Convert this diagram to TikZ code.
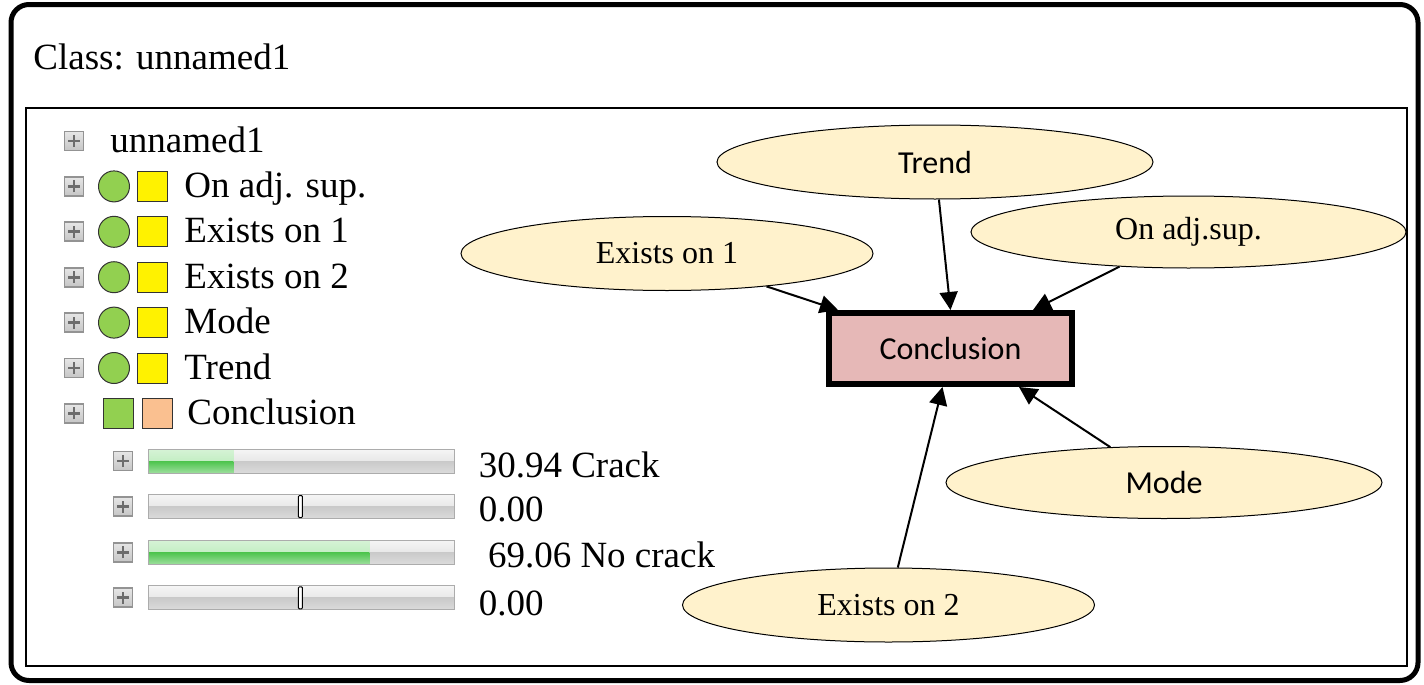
\documentclass[tikz,border=0pt]{standalone}
\usepackage{fontspec}
\setmainfont{Liberation Serif}
\newfontfamily\calibri{Carlito}
\usepackage{tikz}
\usetikzlibrary{chains,positioning,shapes.geometric,arrows.meta}
\definecolor{leafgreen}{RGB}{146,208,80}
\definecolor{peach}{RGB}{250,192,144}
\definecolor{rosebox}{RGB}{230,184,183}
\definecolor{paleyellow}{RGB}{255,242,204}
\definecolor{barlight}{RGB}{196,238,196}
\definecolor{bardark}{RGB}{76,196,76}

\begin{document}
\begin{tikzpicture}[x=0.5pt,y=-0.5pt,
  plusbox/.style={rectangle,draw=gray!85,line width=0.9pt,top color=gray!20,bottom color=gray!45,
    minimum size=9.5pt,inner sep=0pt,
    path picture={\draw[gray!85!black,line width=1.4pt]
      ([xshift=-3pt]path picture bounding box.center) -- ++(6pt,0pt)
      ([yshift=-3pt]path picture bounding box.center) -- ++(0pt,6pt);}},
  stateball/.style={circle,draw=black!80,fill=leafgreen,line width=0.5pt,minimum size=15.5pt,inner sep=0pt},
  statesq/.style={rectangle,draw=black!80,fill=yellow,line width=0.5pt,minimum size=15pt,inner sep=0pt},
  listtext/.style={anchor=base west,inner sep=0pt,font=\fontsize{18.5}{21}\selectfont},
  valtext/.style={anchor=west,inner sep=0pt,font=\fontsize{18.5}{21}\selectfont},
  varnode/.style={ellipse,draw,line width=0.5pt,fill=paleyellow,minimum width=206pt,minimum height=37pt,
    inner sep=0pt,font=\fontsize{16}{19}\selectfont},
  calfont/.style={font=\calibri\fontsize{16}{19}\selectfont},
  concnode/.style={rectangle,draw,line width=3pt,fill=rosebox,minimum width=121.5pt,minimum height=35.5pt,calfont},
  link/.style={line width=1pt,-{Triangle[length=9pt,width=9pt]}}
]
\useasboundingbox (0,0) rectangle (1424,685);

% the frames
\draw[line width=2.5pt,rounded corners=9pt] (11,4.5) rectangle (1418,680.5);
\draw[line width=0.75pt] (26,108) rectangle (1407,666);
\node[listtext] (title) at (33,69) {Class: unnamed1};

% the plus icons of the tree
\begin{scope}[shift={(74,141)},start chain=going below,node distance=12.3pt]
\foreach \i in {0,1,...,6}
    \node[plusbox,on chain] (pl\i) {};
\end{scope}

% the plus icons of the states
\begin{scope}[shift={(123,461)},start chain=going below,node distance=12.4pt]
\foreach \i in {1,2,...,4}
    \node[plusbox,on chain] (bp\i) {};
\end{scope}

% the tree entries
\node[listtext] (root) at ([xshift=18pt,yshift=-5.5pt]pl0.center) {unnamed1};
\foreach \i/\name in {1/On adj. sup.,2/Exists on 1,3/Exists on 2,4/Mode,5/Trend} {
    \node[stateball,right=6.8pt of pl\i] (ball\i) {};
    \node[statesq,right=3.5pt of ball\i] (sq\i) {};
    \node[listtext] (var\i) at ([xshift=8pt,yshift=-5.5pt]sq\i.east) {\name};
}
\node[statesq,fill=leafgreen,right=9.3pt of pl6] (ball6) {};
\node[statesq,fill=peach,right=4pt of ball6] (sq6) {};
\node[listtext] (var6) at ([xshift=7pt,yshift=-5.5pt]sq6.east) {Conclusion};

% the state bars
\foreach \i in {1,2,...,4} {
    \path ([xshift=7.5pt]bp\i.east) coordinate (bs\i);
    \shade[top color=gray!8,bottom color=gray!18] ([yshift=6pt]bs\i) rectangle ++(153pt,-6pt);
    \shade[top color=gray!42,bottom color=gray!28] (bs\i) rectangle ++(153pt,-6pt);
}
\foreach \i/\len in {1/42.5pt,3/110.5pt} {
    \shade[top color=barlight!70,bottom color=barlight] ([yshift=6pt]bs\i) rectangle ++(\len,-6pt);
    \shade[top color=bardark,bottom color=bardark!55] (bs\i) rectangle ++(\len,-6pt);
}
\foreach \i in {1,2,...,4}
    \draw[gray!65,line width=0.5pt] ([yshift=6pt]bs\i) rectangle ++(153pt,-12pt);
\foreach \i in {2,4}
    \draw[line width=0.5pt,fill=white,rounded corners=0.5pt] ([xshift=75pt,yshift=5.5pt]bs\i) rectangle ++(2pt,-11pt);

% the state values
\node[valtext] (val1) at ([xshift=165pt,yshift=-2pt]bs1) {30.94 Crack};
\node[valtext] (val2) at ([xshift=165pt,yshift=-1.5pt]bs2) {0.00};
\node[valtext] (val3) at ([xshift=165pt,yshift=-1.5pt]bs3) {\ 69.06 No crack};
\node[valtext] (val4) at ([xshift=165pt,yshift=-3pt]bs4) {0.00};

% the network
\node[varnode,calfont,minimum width=218pt] (trend) at (935,162) {Trend};
\node[varnode] (exone) at (667,253.5) {Exists on 1};
\node[varnode,minimum width=217.5pt,minimum height=36pt] (adjsup) at (1188.5,232) {On adj.sup.};
\node[varnode,calfont,minimum width=218pt,minimum height=36pt] (mode) at (1164,482.5) {Mode};
\node[varnode] (extwo) at (888.5,605) {Exists on 2};
\node[concnode] (concl) at (950.5,348.5) {Conclusion};

% the links
\draw[link] (exone) -- ([xshift=6pt]concl.north west);
\draw[link] (trend) -- (concl.north);
\draw[link] (adjsup) -- ([xshift=-21pt]concl.north east);
\draw[link] (mode) -- ([xshift=-28pt]concl.south east);
\draw[link] (extwo) -- ([xshift=-4pt]concl.south);

\end{tikzpicture}
\end{document}
